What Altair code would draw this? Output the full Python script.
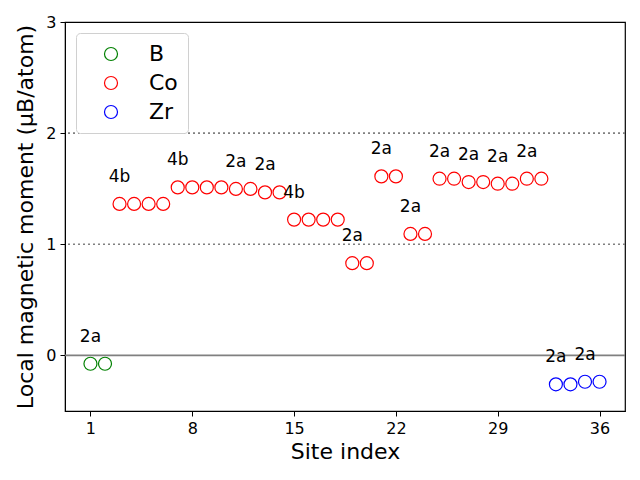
import altair as alt
import pandas as pd

sites = list(range(1, 37))
elements = ["B"] * 2 + ["Co"] * 30 + ["Zr"] * 4
moments = [-0.075, -0.075,
           1.363, 1.363, 1.363, 1.363,
           1.512, 1.512, 1.512, 1.512,
           1.498, 1.498,
           1.467, 1.467,
           1.222, 1.222, 1.222, 1.222,
           0.83, 0.83,
           1.611, 1.611,
           1.093, 1.093,
           1.59, 1.59,
           1.56, 1.56,
           1.545, 1.545,
           1.59, 1.59,
           -0.26, -0.26, -0.237, -0.237]
label_sites = [1, 3, 7, 11, 13, 15, 19, 21, 23, 25, 27, 29, 31, 33, 35]
label_texts = ["2a", "4b", "4b", "2a", "2a", "4b", "2a", "2a", "2a", "2a", "2a", "2a", "2a", "2a", "2a"]
x_ticks = [1, 8, 15, 22, 29, 36]
y_ticks = [0, 1, 2, 3]
ref_levels = [1, 2]

df = pd.DataFrame({"site": sites, "element": elements, "moment": moments})
lab = pd.DataFrame({"site": label_sites, "text": label_texts,
                    "moment": [moments[s - 1] for s in label_sites]})

xscale = alt.Scale(domain=[-0.75, 37.75], nice=False, zero=False)
yscale = alt.Scale(domain=[-0.5, 3], nice=False, zero=False)

xenc = alt.X("site:Q", scale=xscale,
             axis=alt.Axis(values=x_ticks, title="Site index", grid=False, format="d",
                           tickSize=5, labelPadding=4, titlePadding=5))
yenc = alt.Y("moment:Q", scale=yscale,
             axis=alt.Axis(values=y_ticks, title="Local magnetic moment (μB/atom)", format="d",
                           grid=False, tickSize=5, labelPadding=4, titlePadding=8))

points = alt.Chart(df).mark_point(shape="circle", filled=False, size=169, strokeWidth=1.2,
                                  opacity=1).encode(
    x=xenc, y=yenc,
    color=alt.Color("element:N",
                    scale=alt.Scale(domain=["B", "Co", "Zr"], range=["green", "red", "blue"]),
                    legend=alt.Legend(title=None, orient="top-left", offset=11,
                                      strokeColor="#d0d0d0", fillColor="white",
                                      cornerRadius=4, padding=10, symbolOffset=14,
                                      labelFontSize=22, symbolSize=169, symbolStrokeWidth=1.2,
                                      symbolType="circle", labelOffset=27, rowPadding=7,
                                      symbolOpacity=1,
                                      labelFont="DejaVu Sans", labelColor="black")),
)

zero_rule = alt.Chart(pd.DataFrame({"y": [0]})).mark_rule(color="gray", strokeWidth=1.8).encode(
    y=alt.Y("y:Q", scale=yscale))
dot_rules = alt.Chart(pd.DataFrame({"y": ref_levels})).mark_rule(
    color="gray", strokeWidth=1.6, strokeDash=[2, 3]).encode(y=alt.Y("y:Q", scale=yscale))

texts = alt.Chart(lab).mark_text(fontSize=17, baseline="alphabetic", align="center", dy=-22,
                                 font="DejaVu Sans", color="black").encode(
    x=alt.X("site:Q", scale=xscale), y=alt.Y("moment:Q", scale=yscale), text="text:N")

chart = alt.layer(zero_rule, dot_rules, points, texts).properties(
    width=560, height=389,
    autosize=alt.AutoSizeParams(type="none"),
    padding={"left": 57, "top": 14, "right": 7, "bottom": 56},
).configure_view(stroke="black", strokeWidth=1.2).configure_axis(
    labelFont="DejaVu Sans", titleFont="DejaVu Sans", labelFontSize=16, titleFontSize=22,
    titleFontWeight="normal", labelColor="black", titleColor="black",
    domainColor="black", tickColor="black")

chart.save("out.html", embed_options={"renderer": "svg", "actions": False})
